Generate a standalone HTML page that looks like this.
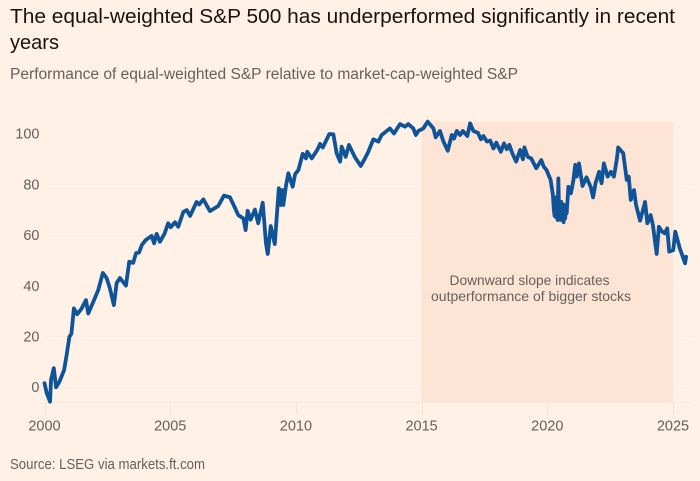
<!DOCTYPE html>
<html lang="en">
<head>
<meta charset="utf-8">
<title>Equal-weighted S&amp;P 500 relative performance</title>
<style>
html,body{margin:0;padding:0;background:#fff1e5;}
svg{display:block;font-family:"Liberation Sans",sans-serif;}
</style>
</head>
<body>
<svg id="chart" width="700" height="481" viewBox="0 0 700 481" xmlns="http://www.w3.org/2000/svg">
  <rect x="0" y="0" width="700" height="481" fill="#fff1e5"/>
  <text x="10" y="23" font-size="20.5" fill="#1a1210" textLength="665" lengthAdjust="spacingAndGlyphs">The equal-weighted S&amp;P 500 has underperformed significantly in recent</text>
  <text x="10" y="49" font-size="20.5" fill="#1a1210" textLength="49" lengthAdjust="spacingAndGlyphs">years</text>
  <text x="10" y="79" font-size="15.5" fill="#66605c" textLength="508" lengthAdjust="spacingAndGlyphs">Performance of equal-weighted S&amp;P relative to market-cap-weighted S&amp;P</text>
  <g id="grid-layer"></g>
  <rect id="band" fill="#fde4d5"/>
  <g id="grid-over"></g>
  <g id="x-axis"></g>
  <g id="y-axis"></g>
  <text x="529.5" y="285" font-size="14" fill="#66605c" text-anchor="middle" textLength="160" lengthAdjust="spacingAndGlyphs">Downward slope indicates</text>
  <text x="531" y="301" font-size="14" fill="#66605c" text-anchor="middle" textLength="200" lengthAdjust="spacingAndGlyphs">outperformance of bigger stocks</text>
  <path id="series" fill="none" stroke="#0f5499" stroke-width="3.8" stroke-linejoin="round" stroke-linecap="round"/>
  <text x="10" y="469" font-size="14.5" fill="#66605c" textLength="195" lengthAdjust="spacingAndGlyphs">Source: LSEG via markets.ft.com</text>
</svg>
<script>
const xTickYears = [2000, 2005, 2010, 2015, 2020, 2025];
const yTickValues = [0, 20, 40, 60, 80, 100];
const bandYears = [2015, 2025];
const dates = [
2000.00,2000.09,2000.22,2000.26,2000.37,2000.46,2000.59,2000.78,2000.88,2000.99,
2001.07,2001.17,2001.30,2001.48,2001.65,2001.74,2001.94,2002.14,2002.32,2002.47,
2002.60,2002.76,2002.87,2003.00,2003.24,2003.37,2003.53,2003.64,2003.76,2003.87,
2004.03,2004.26,2004.36,2004.46,2004.59,2004.77,2004.92,2005.02,2005.19,2005.32,
2005.52,2005.66,2005.79,2006.05,2006.15,2006.32,2006.58,2006.91,2007.14,2007.38,
2007.58,2007.71,2007.91,2008.00,2008.08,2008.20,2008.37,2008.50,2008.68,2008.81,
2008.88,2009.00,2009.16,2009.32,2009.40,2009.45,2009.50,2009.61,2009.70,2009.87,
2009.97,2010.10,2010.27,2010.40,2010.45,2010.63,2010.85,2010.96,2011.07,2011.33,
2011.49,2011.62,2011.76,2011.82,2011.98,2012.11,2012.35,2012.58,2012.75,2012.88,
2013.08,2013.28,2013.41,2013.74,2013.90,2014.14,2014.34,2014.47,2014.67,2014.77,
2014.87,2015.07,2015.24,2015.47,2015.56,2015.73,2015.87,2016.04,2016.20,2016.29,
2016.40,2016.53,2016.64,2016.82,2016.93,2017.06,2017.24,2017.36,2017.46,2017.60,
2017.73,2017.86,2017.97,2018.15,2018.28,2018.39,2018.49,2018.60,2018.76,2018.92,
2019.03,2019.09,2019.22,2019.36,2019.56,2019.76,2019.86,2019.97,
2020.13,2020.22,2020.26,2020.29,2020.32,2020.35,2020.38,2020.41,2020.44,2020.47,
2020.50,2020.53,2020.56,2020.59,2020.62,2020.65,2020.68,2020.71,2020.74,2020.77,2020.84,
2020.94,2021.04,2021.11,2021.17,2021.26,2021.40,2021.56,2021.73,2021.82,2021.92,
2022.06,2022.16,2022.25,2022.40,2022.53,2022.65,2022.76,2022.82,2023.02,2023.16,
2023.24,2023.32,2023.45,2023.53,2023.69,2023.89,2023.98,2024.11,2024.20,2024.35,
2024.44,2024.55,2024.67,2024.77,2024.85,2025.01,2025.09,2025.27,2025.48,2025.52
];
const values = [
1.5,-2.5,-5.8,2.8,7.4,-0.1,2,6.7,12.6,19.8,
21,31,28.7,31,34.3,29,33.6,38.3,45,43,
39,32.3,41,43,40,49.4,49,52.8,53,56,
58,59.6,56.7,60.4,57.3,60.4,64.6,63,65,63.2,
69,69.8,67.5,73,72,74,69.4,71.4,75.5,74.8,
70.6,67.8,66.5,61.9,69.5,66,70,64.6,72.7,56.7,
52.5,63.5,56.4,78.4,71.8,77.7,71.8,79.7,84.3,79,
84,85.6,92,90.2,92.8,90.2,93.5,95.9,94.5,99.8,
99.7,92.2,88.9,94.8,90.8,95.5,90.6,87.2,90.2,92.8,
97.7,96.8,99.4,102,100,103.7,102.7,103.7,102,99.4,
101,102,104.7,102,98.5,101,96.8,93.2,99.4,98,
101,99.4,101,99,104,101,100.3,97.7,99,96.8,
97.2,94.1,96.4,92.8,96.1,93.8,95.5,92.4,88.9,93.5,
89.8,94.5,90.8,90.2,86.3,89.5,86.9,85.6,
81.7,76,70,67.5,74,67,75,65.9,82.3,68,
72,65.9,73,67,72,65,71.8,66.5,71,68.5,79,
76.4,81.7,87.6,83,88.2,79.3,82.7,78.8,74.8,80.4,
84.9,80.4,88.2,83,84.9,83,89.5,94.5,92.2,81.7,
83,73.8,77.7,71.8,65.6,73,64.6,67.8,63.9,52.5,
63.2,61.5,60.6,62.6,53.4,54,61.3,54.7,48.8,51.4
];

const xScale = year => 44.5 + (year - 2000) * 25.14;
const yScale = value => 387 - value * 2.535;
const svgNS = 'http://www.w3.org/2000/svg';
const plotTop = 122, plotBottom = 402, plotRight = 693;

const gridLayer = document.getElementById('grid-layer');
const gridOver = document.getElementById('grid-over');
const xAxis = document.getElementById('x-axis');
const yAxis = document.getElementById('y-axis');

function makeLine(parent, x1, y1, x2, y2, stroke) {
  const line = document.createElementNS(svgNS, 'line');
  line.setAttribute('x1', x1);
  line.setAttribute('y1', y1);
  line.setAttribute('x2', x2);
  line.setAttribute('y2', y2);
  line.setAttribute('stroke', stroke);
  line.setAttribute('stroke-width', '1');
  parent.appendChild(line);
  return line;
}

function makeLabel(parent, x, y, anchor, str) {
  const t = document.createElementNS(svgNS, 'text');
  t.setAttribute('x', x);
  t.setAttribute('y', y);
  t.setAttribute('text-anchor', anchor);
  t.setAttribute('font-size', '14.5');
  t.setAttribute('fill', '#66605c');
  t.textContent = str;
  parent.appendChild(t);
  return t;
}

yTickValues.forEach(v => {
  const py = Math.round(yScale(v)) + 0.5;
  const grid = makeLine(gridLayer, 44, py, plotRight, py, '#fbede2');
  
  
  const over = makeLine(gridOver, xScale(bandYears[0]), py, xScale(bandYears[1]), py, '#fce3d4');
  
  
  const label = makeLabel(yAxis, 39.5, yScale(v) + 5.2, 'end', String(v));
  
  
});

const band = document.getElementById('band');
band.setAttribute('x', xScale(bandYears[0]));
band.setAttribute('y', plotTop);
band.setAttribute('width', xScale(bandYears[1]) - xScale(bandYears[0]));
band.setAttribute('height', plotBottom - plotTop);

const baseline = makeLine(xAxis, 44, plotBottom + 0.5, plotRight, plotBottom + 0.5, '#f7e8dd');



xTickYears.forEach(y => {
  const px = Math.round(xScale(y)) + 0.5;
  const tick = makeLine(xAxis, px, plotBottom, px, plotBottom + 12, '#f3e4d9');
  
  
  const label = makeLabel(xAxis, xScale(y), 430.5, 'middle', String(y));
  
  
});

const d = dates.map((yr, i) => (i ? 'L' : 'M') + xScale(yr).toFixed(2) + ' ' + yScale(values[i]).toFixed(2)).join(' ');
document.getElementById('series').setAttribute('d', d);
</script>
</body>
</html>
